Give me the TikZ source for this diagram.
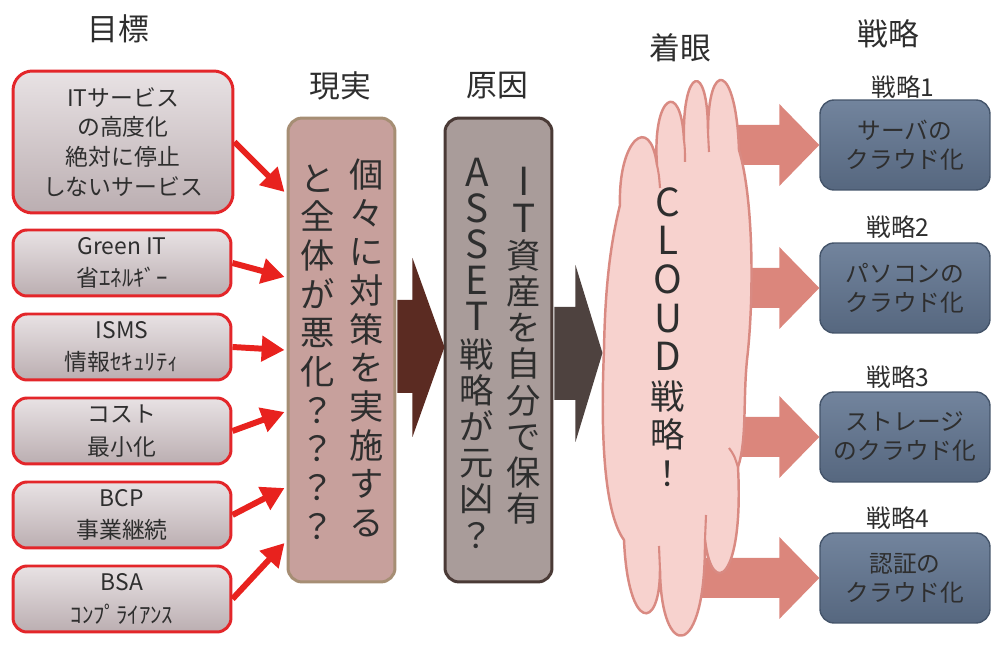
\documentclass[tikz,border=0pt]{standalone}
\usepackage{fontspec}
\setmainfont{Noto Sans CJK JP}
\usetikzlibrary{calc,positioning,arrows.meta}

\definecolor{goalred}{HTML}{E3262A}
\definecolor{goaltop}{HTML}{E8E2E4}
\definecolor{goalbot}{HTML}{BBAEB1}
\definecolor{arrowred}{HTML}{E8221E}
\definecolor{realfill}{HTML}{C7A09C}
\definecolor{realline}{HTML}{A68E74}
\definecolor{causefill}{HTML}{A99C9A}
\definecolor{causeline}{HTML}{4A3A36}
\definecolor{realarrow}{HTML}{5B2B22}
\definecolor{causearrow}{HTML}{4E423F}
\definecolor{cloudfill}{HTML}{F7D2CE}
\definecolor{cloudline}{HTML}{D98A82}
\definecolor{pinkarrow}{HTML}{DB867C}
\definecolor{strattop}{HTML}{72849D}
\definecolor{stratbot}{HTML}{56677F}
\definecolor{stratline}{HTML}{44546A}

\newcommand\lat[1]{{\fontsize{22}{22}\selectfont #1}}

\begin{document}
\begin{tikzpicture}[x=0.02cm, y=-0.02cm]
\tikzstyle{every node}=[inner sep=0pt, text=black!82]
\tikzstyle{title}=[font=\fontsize{17.5}{20}\selectfont]
\tikzstyle{goal}=[draw=goalred, line width=1.7pt, rounded corners=8pt,
                  top color=goaltop, bottom color=goalbot,
                  minimum width=4.36cm, minimum height=1.32cm,
                  align=center, font=\fontsize{13}{18.5}\selectfont]
\tikzstyle{goalarrow}=[draw=arrowred, line width=3.4pt,
                       -{Triangle[length=13pt,width=14pt]}]
\tikzstyle{column}=[line width=1.7pt, rounded corners=8pt,
                    minimum width=2.14cm, minimum height=9.28cm]
\tikzstyle{stack}=[align=center, font=\fontsize{19.5}{22}\selectfont]
\tikzstyle{strat}=[draw=stratline, line width=0.8pt, rounded corners=8pt,
                   top color=strattop, bottom color=stratbot,
                   minimum width=3.4cm, minimum height=1.8cm,
                   align=center, font=\fontsize{13.5}{16.5}\selectfont]
\tikzstyle{stratlabel}=[font=\fontsize{14}{16}\selectfont]
\useasboundingbox (0,0) rectangle (992,645);

\node[title] (T1) at (118,29) {目標};
\node[title] (T2) at (340,86) {現実};
\node[title] (T3) at (497,86) {原因};
\node[title] (T4) at (680,48) {着眼};
\node[title] (T5) at (888,34) {戦略};

\node[goal, minimum width=4.4cm, minimum height=2.84cm, rounded corners=11pt,
      font=\fontsize{13}{17}\selectfont] (G1) at (123,142)
      {ITサービス\\の高度化\\絶対に停止\\しないサービス};
\node[goal] (G2) at (122,263) {Green IT\\省ｴﾈﾙｷﾞｰ};
\node[goal] (G3) at (122,347) {ISMS\\情報ｾｷｭﾘﾃｨ};
\node[goal] (G4) at (122,431) {コスト\\最小化};
\node[goal] (G5) at (122,515) {BCP\\事業継続};
\node[goal] (G6) at (122,599) {BSA\\ｺﾝﾌﾟﾗｲｱﾝｽ};

\node[column, draw=realline, fill=realfill] (R) at (341.5,350) {};
\node[stack] (R1) at (367,348) {個\\々\\に\\対\\策\\を\\実\\施\\す\\る};
\node[stack] (R2) at (318,352) {と\\全\\体\\が\\悪\\化\\？\\？\\？\\？};

\node[column, draw=causeline, fill=causefill] (C) at (498.5,350) {};
\node[stack, font=\fontsize{19.5}{20.6}\selectfont] (C1) at (524,346)
      {\lat{I}\\\lat{T}\\資\\産\\を\\自\\分\\で\\保\\有};
\node[stack, font=\fontsize{19.5}{20.6}\selectfont] (C2) at (477,353)
      {\lat{A}\\\lat{S}\\\lat{S}\\\lat{E}\\\lat{T}\\戦\\略\\が\\元\\凶\\？};

\draw[goalarrow] (G1.east) -- ($(R.west)+(-2,-158)$);
\draw[goalarrow] (G2.east) -- ($(R.west)+(-2,-73)$);
\draw[goalarrow] (G3.east) -- ($(R.west)+(-2,0)$);
\draw[goalarrow] (G4.east) -- ($(R.west)+(-2,62)$);
\draw[goalarrow] (G5.east) -- ($(R.west)+(-2,138)$);
\draw[goalarrow] (G6.east) -- ($(R.west)+(-2,193)$);

\fill[realarrow] ($(R.east)+(1,-50)$) -- ++(15,0) -- ++(0,-42)
   -- ($(R.east)+(48,-3)$) -- ($(R.east)+(16,87)$) -- ++(0,-44)
   -- ($(R.east)+(1,43)$) -- cycle;
\fill[causearrow] ($(C.east)+(1,-43)$) -- ++(21,0) -- ++(0,-42)
   -- ($(C.east)+(49,3)$) -- ($(C.east)+(22,92)$) -- ++(0,-42)
   -- ($(C.east)+(1,50)$) -- cycle;

\node[stratlabel] (L1) at (903,87) {戦略1};
\node[stratlabel] (L2) at (898,227) {戦略2};
\node[stratlabel] (L3) at (898,377) {戦略3};
\node[stratlabel] (L4) at (898,518) {戦略4};
\node[strat] (S1) at (905,145) {サーバの\\クラウド化};
\node[strat] (S2) at (905,288) {パソコンの\\クラウド化};
\node[strat] (S3) at (905,437) {ストレージ\\のクラウド化};
\node[strat] (S4) at (905,578) {認証の\\クラウド化};

\foreach \s in {S1,S2,S3,S4}
  \fill[pinkarrow] ($(\s.west)+(-120,-20)$) -- ++(80,0) -- ++(0,-21)
     -- (\s.west) -- ($(\s.west)+(-40,41)$) -- ++(0,-21) -- ++(-80,0) -- cycle;

\draw[cloudline, fill=cloudfill, line width=1.4pt] (620,205)
   .. controls (618,140) and (650,112) .. (657,165)
   .. controls (652,95) and (681,78) .. (684,140)
   .. controls (682,68) and (708,58) .. (708,132)
   .. controls (708,58) and (736,62) .. (739,150)
   .. controls (754,200) and (754,300) .. (747,360)
   .. controls (743,400) and (747,440) .. (738,467)
   .. controls (744,580) and (712,600) .. (705,540)
   .. controls (706,662) and (661,662) .. (660,570)
   .. controls (660,632) and (628,632) .. (624,540)
   .. controls (602,510) and (601,420) .. (604,350)
   .. controls (605,290) and (610,245) .. (620,205) -- cycle;
\draw[cloudline, line width=1.2pt] (657,165) .. controls (659,175) .. (660,188);
\draw[cloudline, line width=1.2pt] (684,140) .. controls (685,150) .. (685,162);
\draw[cloudline, line width=1.2pt] (708,132) .. controls (709,142) .. (709,152);
\draw[cloudline, line width=1.2pt] (705,540) .. controls (706,528) .. (706,515);
\draw[cloudline, line width=1.2pt] (660,570) .. controls (660,558) .. (659,546);
\draw[cloudline, line width=1.2pt] (738,467) .. controls (734,455) .. (729,448);

\node[stack] (F) at (668,337)
      {\lat{C}\\\lat{L}\\\lat{O}\\\lat{U}\\\lat{D}\\戦\\略\\！};
\end{tikzpicture}
\end{document}
